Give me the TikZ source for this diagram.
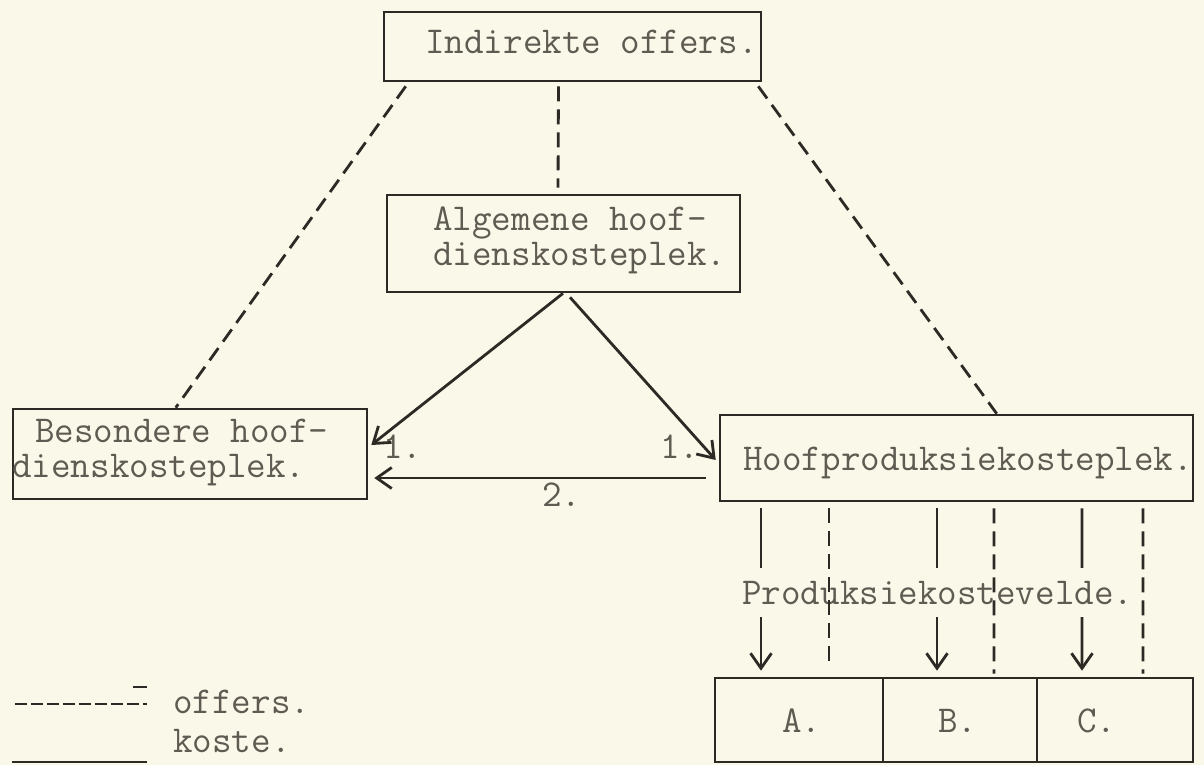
\documentclass[tikz,border=0pt]{standalone}
\usepackage{fontspec}
\usetikzlibrary{arrows.meta,calc}
\definecolor{paper}{RGB}{250,248,232}
\definecolor{ink}{RGB}{45,42,38}
\definecolor{typecol}{RGB}{95,90,82}
\begin{document}
\begin{tikzpicture}[x=0.02cm,y=-0.02cm,
  box/.style={draw=ink,line width=1.5pt,rectangle,inner sep=0},
  lbl/.style={anchor=base west,inner sep=0,text=typecol,font=\ttfamily\fontsize{21.6}{24}\selectfont},
  off/.style={draw=ink,line width=1.6pt,dash pattern=on 0.3cm off 0.16cm},
  legoff/.style={draw=ink,line width=1.6pt,dash pattern=on 0.24cm off 0.08cm},
  cost/.style={draw=ink,line width=1.6pt,-{Straight Barb[length=0.3cm,width=0.42cm]}},
  plain/.style={draw=ink,line width=1.6pt}]
\fill[paper] (0,0) rectangle (1204,765);
\useasboundingbox (0,0) rectangle (1204,765);

% boxes
\node[box,minimum width=7.54cm,minimum height=1.38cm] (ind) at (572.5,46.5) {};
\node[box,minimum width=7.06cm,minimum height=1.94cm] (alg) at (563.5,243.5) {};
\node[box,minimum width=7.08cm,minimum height=1.8cm] (bes) at (190,454) {};
\node[box,minimum width=9.46cm,minimum height=1.72cm] (hoof) at (956.5,458) {};
\node[box,minimum width=3.36cm,minimum height=1.68cm] (A) at (799,720) {};
\node[box,minimum width=3.08cm,minimum height=1.68cm] (B) at (960,720) {};
\node[box,minimum width=3.12cm,minimum height=1.68cm] (C) at (1115,720) {};

% texts
\node[lbl] (tInd) at (425,53) {Indirekte offers.};
\node[lbl] (tAlg1) at (433,230) {Algemene hoof-};
\node[lbl] (tAlg2) at (433,265) {dienskosteplek.};
\node[lbl] (tBes1) at (35,442) {Besondere hoof-};
\node[lbl] (tBes2) at (12,477) {dienskosteplek.};
\node[lbl] (tHoof) at (743,470) {Hoofproduksiekosteplek.};
\node[lbl] (tA) at (782,732) {A.};
\node[lbl] (tB) at (938,732) {B.};
\node[lbl] (tC) at (1077,732) {C.};
\node[lbl] (one1) at (383,458) {1.};
\node[lbl] (one2) at (660,458) {1.};
\node[lbl] (two) at (542,506) {2.};

% dashed links (offers)
\draw[off] ($(ind.south west)+(23,4)$) -- ($(bes.north west)+(164,0)$);
\draw[off] ($(ind.south)+(-14,4)$) -- ($(alg.north)+(-5.5,-6)$);
\draw[off] ($(ind.south east)+(-4,4)$) -- ($(hoof.north west)+(278,0)$);

% cost arrows
\draw[cost] ($(alg.south)+(-0.5,0)$) -- ($(bes.east)+(3,-9)$);
\draw[cost] ($(alg.south)+(6.5,4)$) -- ($(hoof.west)+(-3,2)$);
\draw[cost] ($(hoof.west)+(-13,20)$) -- ($(bes.east)+(6,24)$);

\draw[cost] ($(hoof.south)+(-195.5,6)$) -- ($(A.north)+(-38,-6)$);
\draw[cost] ($(hoof.south)+(-19.5,6)$) -- ($(B.north)+(-23,-6)$);
\draw[cost] ($(hoof.south)+(125.5,6)$) -- ($(C.north)+(-33,-6)$);

\node[lbl,fill=paper,inner ysep=0.25cm] (tProd) at (742,604) {Produksiekostevelde.};

\draw[off] ($(hoof.south)+(-127.5,6)$) -- ($(A.north)+(30,-15)$);
\draw[off] ($(hoof.south)+(37.5,6)$) -- ($(B.north)+(34,-3)$);
\draw[off] ($(hoof.south)+(186.5,6)$) -- ($(C.north)+(28,-3)$);

% legend
\coordinate (la) at (15,704);
\coordinate (lb) at (147,704);
\draw[legoff] (la) -- (lb);
\coordinate (lc) at (133,687);
\coordinate (ld) at (147,687);
\draw[plain] (lc) -- (ld);
\coordinate (le) at (12,762);
\coordinate (lf) at (147,762);
\draw[plain] (le) -- (lf);
\node[lbl] (tOff) at (173,713) {offers.};
\node[lbl] (tKos) at (173,752) {koste.};
\end{tikzpicture}
\end{document}
